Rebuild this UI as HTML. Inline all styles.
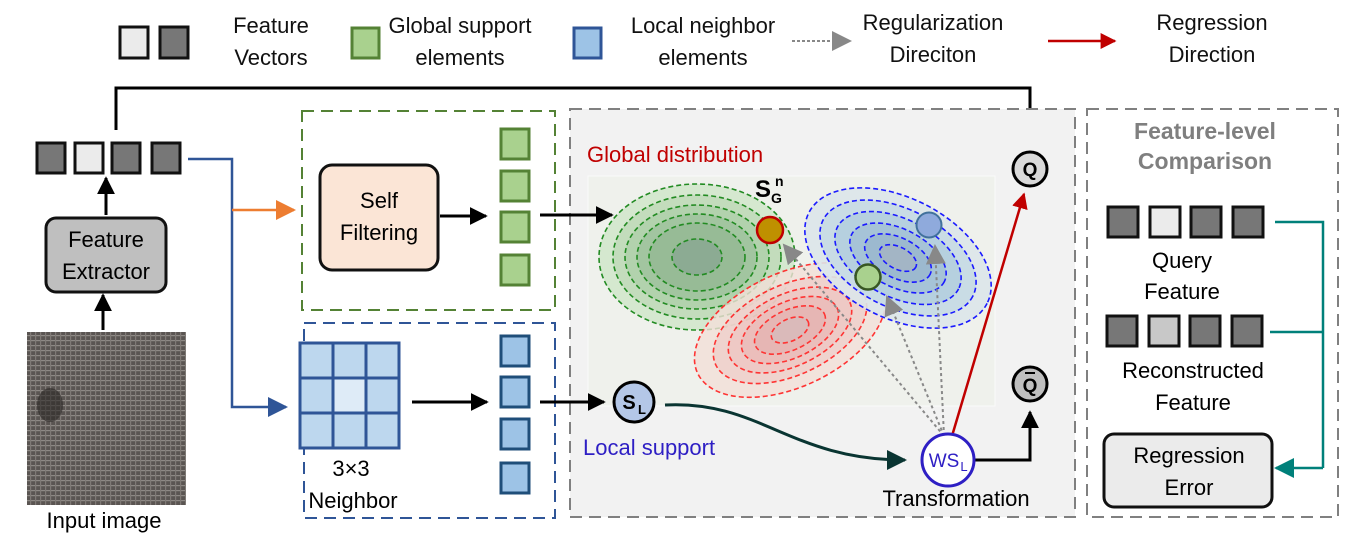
<!DOCTYPE html>
<html><head><meta charset="utf-8"><style>
html,body{margin:0;padding:0;background:#fff;}
svg{display:block;font-family:"Liberation Sans",sans-serif;}
</style></head><body>
<svg width="1351" height="548" viewBox="0 0 1351 548" xmlns="http://www.w3.org/2000/svg">
<defs>
<marker id="abk" viewBox="0 0 10 10" markerWidth="18" markerHeight="18" refX="9" refY="5" orient="auto" markerUnits="userSpaceOnUse"><path d="M0,0 L10,5 L0,10 z" fill="#000"/></marker>
<marker id="abl" viewBox="0 0 10 10" markerWidth="20" markerHeight="20" refX="9" refY="5" orient="auto" markerUnits="userSpaceOnUse"><path d="M0,0 L10,5 L0,10 z" fill="#2f5597"/></marker>
<marker id="aor" viewBox="0 0 10 10" markerWidth="20" markerHeight="20" refX="9" refY="5" orient="auto" markerUnits="userSpaceOnUse"><path d="M0,0 L10,5 L0,10 z" fill="#ed7d31"/></marker>
<marker id="agr" viewBox="0 0 10 10" markerWidth="16" markerHeight="16" refX="9" refY="5" orient="auto" markerUnits="userSpaceOnUse"><path d="M0,0 L10,5 L0,10 z" fill="#888"/></marker>
<marker id="agr2" viewBox="0 0 10 10" markerWidth="20" markerHeight="20" refX="9" refY="5" orient="auto" markerUnits="userSpaceOnUse"><path d="M0,0 L10,5 L0,10 z" fill="#888"/></marker>
<marker id="ard" viewBox="0 0 10 10" markerWidth="16" markerHeight="16" refX="9" refY="5" orient="auto" markerUnits="userSpaceOnUse"><path d="M0,0 L10,5 L0,10 z" fill="#c00000"/></marker>
<marker id="adk" viewBox="0 0 10 10" markerWidth="20" markerHeight="20" refX="9" refY="5" orient="auto" markerUnits="userSpaceOnUse"><path d="M0,0 L10,5 L0,10 z" fill="#0a3532"/></marker>
<marker id="atl" viewBox="0 0 10 10" markerWidth="20" markerHeight="20" refX="9" refY="5" orient="auto" markerUnits="userSpaceOnUse"><path d="M0,0 L10,5 L0,10 z" fill="#00807a"/></marker>
<pattern id="cloth" width="5" height="5" patternUnits="userSpaceOnUse">
<rect width="5" height="5" fill="#5a5552"/><rect x="0" y="0" width="5" height="1.2" fill="#8e8985"/><rect x="0" y="0" width="1.2" height="5" fill="#7f7a76"/></pattern>
</defs>

<!-- Legend -->
<g stroke="#111" stroke-width="3">
<rect x="120" y="27" width="28" height="31" fill="#ebebeb"/>
<rect x="160" y="27" width="28" height="31" fill="#777"/>
</g>
<g font-size="22" text-anchor="middle" fill="#111">
<text x="271" y="33">Feature</text><text x="271" y="65">Vectors</text>
<text x="460" y="33">Global support</text><text x="460" y="65">elements</text>
<text x="703" y="33">Local neighbor</text><text x="703" y="65">elements</text>
<text x="933" y="30">Regularization</text><text x="933" y="62">Direciton</text>
<text x="1212" y="30">Regression</text><text x="1212" y="62">Direction</text>
</g>
<rect x="352" y="28" width="27" height="30" fill="#a9d18e" stroke="#548235" stroke-width="3"/>
<rect x="574" y="28" width="27" height="30" fill="#9dc3e6" stroke="#2f5597" stroke-width="3"/>
<line x1="792" y1="41" x2="850" y2="41" stroke="#888" stroke-width="2" stroke-dasharray="3,2" marker-end="url(#agr2)"/>
<line x1="1048" y1="41" x2="1115" y2="41" stroke="#c00000" stroke-width="2.5" marker-end="url(#ard)"/>

<!-- Top line -->
<polyline points="116,130 116,88 1030,88 1030,142" fill="none" stroke="#000" stroke-width="3" marker-end="url(#abk)"/>

<!-- Feature vectors -->
<g stroke="#111" stroke-width="3">
<rect x="37" y="143" width="28" height="30" fill="#777"/>
<rect x="75" y="143" width="28" height="30" fill="#ebebeb"/>
<rect x="112" y="143" width="28" height="30" fill="#777"/>
<rect x="152" y="143" width="28" height="30" fill="#777"/>
</g>
<polyline points="188,159 232,159 232,407 286,407" fill="none" stroke="#2f5597" stroke-width="2.5" marker-end="url(#abl)"/>
<line x1="232" y1="210" x2="294" y2="210" stroke="#ed7d31" stroke-width="2.5" marker-end="url(#aor)"/>

<!-- Feature extractor -->
<line x1="106" y1="215" x2="106" y2="178" stroke="#000" stroke-width="3" marker-end="url(#abk)"/>
<rect x="46" y="218" width="120" height="74" rx="10" fill="#bfbfbf" stroke="#111" stroke-width="3"/>
<text x="106" y="247" font-size="22" text-anchor="middle">Feature</text>
<text x="106" y="279" font-size="22" text-anchor="middle">Extractor</text>
<line x1="103" y1="330" x2="103" y2="295" stroke="#000" stroke-width="3" marker-end="url(#abk)"/>
<rect x="27" y="332" width="159" height="173" fill="url(#cloth)"/>
<ellipse cx="50" cy="405" rx="13" ry="17" fill="#2a2624" opacity="0.6"/>
<text x="104" y="528" font-size="22" text-anchor="middle">Input image</text>

<!-- Green dashed box -->
<rect x="302" y="111" width="253" height="199" fill="none" stroke="#548235" stroke-width="2" stroke-dasharray="12,7"/>
<rect x="320" y="165" width="118" height="105" rx="12" fill="#fbe5d6" stroke="#111" stroke-width="3"/>
<text x="379" y="208" font-size="22" text-anchor="middle">Self</text>
<text x="379" y="240" font-size="22" text-anchor="middle">Filtering</text>
<line x1="440" y1="216" x2="486" y2="216" stroke="#000" stroke-width="3" marker-end="url(#abk)"/>
<g fill="#a9d18e" stroke="#548235" stroke-width="3">
<rect x="501" y="129" width="28" height="30"/><rect x="501" y="171" width="28" height="30"/>
<rect x="501" y="212" width="28" height="30"/><rect x="501" y="255" width="28" height="30"/>
</g>

<!-- Blue dashed box -->
<rect x="304" y="323" width="251" height="195" fill="none" stroke="#2f5597" stroke-width="2" stroke-dasharray="12,7"/>
<g fill="#bdd7ee" stroke="#2f5597" stroke-width="3">
<rect x="300" y="343" width="33" height="35"/><rect x="333" y="343" width="33" height="35"/><rect x="366" y="343" width="33" height="35"/>
<rect x="300" y="378" width="33" height="35"/><rect x="333" y="378" width="33" height="35" fill="#deebf7"/><rect x="366" y="378" width="33" height="35"/>
<rect x="300" y="413" width="33" height="35"/><rect x="333" y="413" width="33" height="35"/><rect x="366" y="413" width="33" height="35"/>
</g>
<text x="351" y="476" font-size="22" text-anchor="middle">3×3</text>
<text x="353" y="508" font-size="22" text-anchor="middle">Neighbor</text>
<line x1="412" y1="402" x2="487" y2="402" stroke="#000" stroke-width="3" marker-end="url(#abk)"/>
<g fill="#9dc3e6" stroke="#1f4e79" stroke-width="3">
<rect x="501" y="336" width="28" height="30"/><rect x="501" y="377" width="28" height="30"/>
<rect x="501" y="419" width="28" height="30"/><rect x="501" y="463" width="28" height="30"/>
</g>

<!-- Center box -->
<rect x="570" y="109" width="505" height="408" fill="#f2f2f2" stroke="#808080" stroke-width="2" stroke-dasharray="12,7"/>
<rect x="588" y="176" width="407" height="230" fill="#eff1ec" stroke="#fafafa"/>
<text x="587" y="162" font-size="22" fill="#c00000">Global distribution</text>
<line x1="540" y1="215" x2="612" y2="215" stroke="#000" stroke-width="3" marker-end="url(#abk)"/>

<g fill="none" stroke="#228b22" stroke-width="1.6" stroke-dasharray="5,3">
<ellipse cx="697" cy="257" rx="98" ry="73" fill="#d5e8cf"/>
<ellipse cx="697" cy="257" rx="84" ry="62" fill="#c3dcbc"/>
<ellipse cx="697" cy="257" rx="72" ry="52" fill="#b2d2ad"/>
<ellipse cx="697" cy="257" rx="60" ry="43" fill="#a2c5a0"/>
<ellipse cx="697" cy="257" rx="48" ry="34" fill="#97bb96"/>
<ellipse cx="697" cy="257" rx="25" ry="18" fill="#8cab93"/>
</g>
<g fill="none" stroke="#ff2a2a" stroke-width="1.6" stroke-dasharray="5,3" transform="rotate(-25 790 330)" opacity="0.95">
<ellipse cx="790" cy="330" rx="102" ry="57" fill="#f2dfd8" fill-opacity="0.85"/>
<ellipse cx="790" cy="330" rx="82" ry="45" fill="#f0d2cd"/>
<ellipse cx="790" cy="330" rx="66" ry="36" fill="#eec7c3"/>
<ellipse cx="790" cy="330" rx="52" ry="28" fill="#ebbcb9"/>
<ellipse cx="790" cy="330" rx="38" ry="20" fill="#e6b3b2"/>
<ellipse cx="790" cy="330" rx="20" ry="11" fill="#d9b8b8"/>
</g>
<g fill="none" stroke="#1a1aff" stroke-width="1.6" stroke-dasharray="5,3" transform="rotate(27 898 258)">
<ellipse cx="898" cy="258" rx="100" ry="60" fill="#dbe6ea" fill-opacity="0.9"/>
<ellipse cx="898" cy="258" rx="84" ry="49" fill="#c9dce5"/>
<ellipse cx="898" cy="258" rx="68" ry="39" fill="#b6d0df"/>
<ellipse cx="898" cy="258" rx="52" ry="29" fill="#a6c3d7"/>
<ellipse cx="898" cy="258" rx="36" ry="20" fill="#9cb9cf"/>
<ellipse cx="898" cy="258" rx="20" ry="11" fill="#a3b5c5"/>
</g>
<g stroke="#888" stroke-width="2" stroke-dasharray="3,3" fill="none">
<line x1="944" y1="436" x2="784" y2="245" marker-end="url(#agr2)"/>
<line x1="944" y1="436" x2="887" y2="297" marker-end="url(#agr2)"/>
<line x1="944" y1="436" x2="935" y2="246" marker-end="url(#agr2)"/>
</g>
<circle cx="770" cy="230" r="13" fill="#bf9000" stroke="#c00000" stroke-width="2.5"/>
<circle cx="929" cy="225" r="12.5" fill="#8faadc" stroke="#41719c" stroke-width="2"/>
<circle cx="868" cy="277" r="12.5" fill="#a9d18e" stroke="#385723" stroke-width="2.5"/>
<text x="755" y="197" font-size="24" font-weight="bold">S</text>
<text x="771" y="203" font-size="14" font-weight="bold">G</text>
<text x="775" y="186" font-size="14" font-weight="bold">n</text>

<line x1="952" y1="436" x2="1024" y2="194" stroke="#c00000" stroke-width="2.5" marker-end="url(#ard)"/>
<circle cx="1030" cy="169" r="17" fill="#d9d9d9" stroke="#000" stroke-width="3"/>
<text x="1030" y="176" font-size="19" font-weight="bold" text-anchor="middle">Q</text>
<circle cx="1030" cy="384" r="17" fill="#bfbfbf" stroke="#000" stroke-width="3"/>
<text x="1030" y="392" font-size="19" font-weight="bold" text-anchor="middle">Q</text>
<line x1="1025" y1="373" x2="1035" y2="373" stroke="#000" stroke-width="2"/>
<polyline points="975,460 1030,460 1030,412" fill="none" stroke="#000" stroke-width="3" marker-end="url(#abk)"/>

<line x1="540" y1="402" x2="604" y2="402" stroke="#000" stroke-width="3" marker-end="url(#abk)"/>
<circle cx="634" cy="402" r="20" fill="#b4c7e7" stroke="#000" stroke-width="3"/>
<text x="629" y="409" font-size="20" font-weight="bold" text-anchor="middle">S</text>
<text x="642" y="414" font-size="13" font-weight="bold" text-anchor="middle">L</text>
<text x="583" y="455" font-size="22" fill="#2e1fc4">Local support</text>
<path d="M665,405 C760,400 790,460 905,460" fill="none" stroke="#0a3532" stroke-width="3" marker-end="url(#adk)"/>
<circle cx="948" cy="460" r="26" fill="#fff" stroke="#2e1fc4" stroke-width="3"/>
<text x="944" y="467" font-size="19" fill="#2e1fc4" text-anchor="middle">WS</text>
<text x="964" y="471" font-size="13" fill="#2e1fc4" text-anchor="middle">L</text>
<text x="956" y="506" font-size="22" text-anchor="middle">Transformation</text>

<rect x="1087" y="109" width="251" height="408" fill="none" stroke="#808080" stroke-width="2" stroke-dasharray="12,7"/>
<text x="1205" y="139" font-size="23" font-weight="bold" fill="#7f7f7f" text-anchor="middle">Feature-level</text>
<text x="1205" y="169" font-size="23" font-weight="bold" fill="#7f7f7f" text-anchor="middle">Comparison</text>
<g stroke="#111" stroke-width="3">
<rect x="1108" y="207" width="30" height="30" fill="#777"/><rect x="1150" y="207" width="30" height="30" fill="#ebebeb"/>
<rect x="1191" y="207" width="30" height="30" fill="#777"/><rect x="1233" y="207" width="30" height="30" fill="#777"/>
<rect x="1107" y="316" width="30" height="30" fill="#777"/><rect x="1149" y="316" width="30" height="30" fill="#c8c8c8"/>
<rect x="1190" y="316" width="30" height="30" fill="#777"/><rect x="1232" y="316" width="30" height="30" fill="#777"/>
</g>
<text x="1182" y="268" font-size="22" text-anchor="middle">Query</text>
<text x="1182" y="299" font-size="22" text-anchor="middle">Feature</text>
<text x="1193" y="378" font-size="22" text-anchor="middle">Reconstructed</text>
<text x="1193" y="410" font-size="22" text-anchor="middle">Feature</text>
<rect x="1104" y="434" width="168" height="73" rx="10" fill="#ebebeb" stroke="#111" stroke-width="3"/>
<text x="1189" y="463" font-size="22" text-anchor="middle">Regression</text>
<text x="1189" y="495" font-size="22" text-anchor="middle">Error</text>
<g fill="none" stroke="#00807a" stroke-width="2.5">
<polyline points="1275,222 1323,222 1323,468"/>
<line x1="1270" y1="332" x2="1323" y2="332"/>
<line x1="1323" y1="468" x2="1276" y2="468" marker-end="url(#atl)"/>
</g>
</svg>
</body></html>
